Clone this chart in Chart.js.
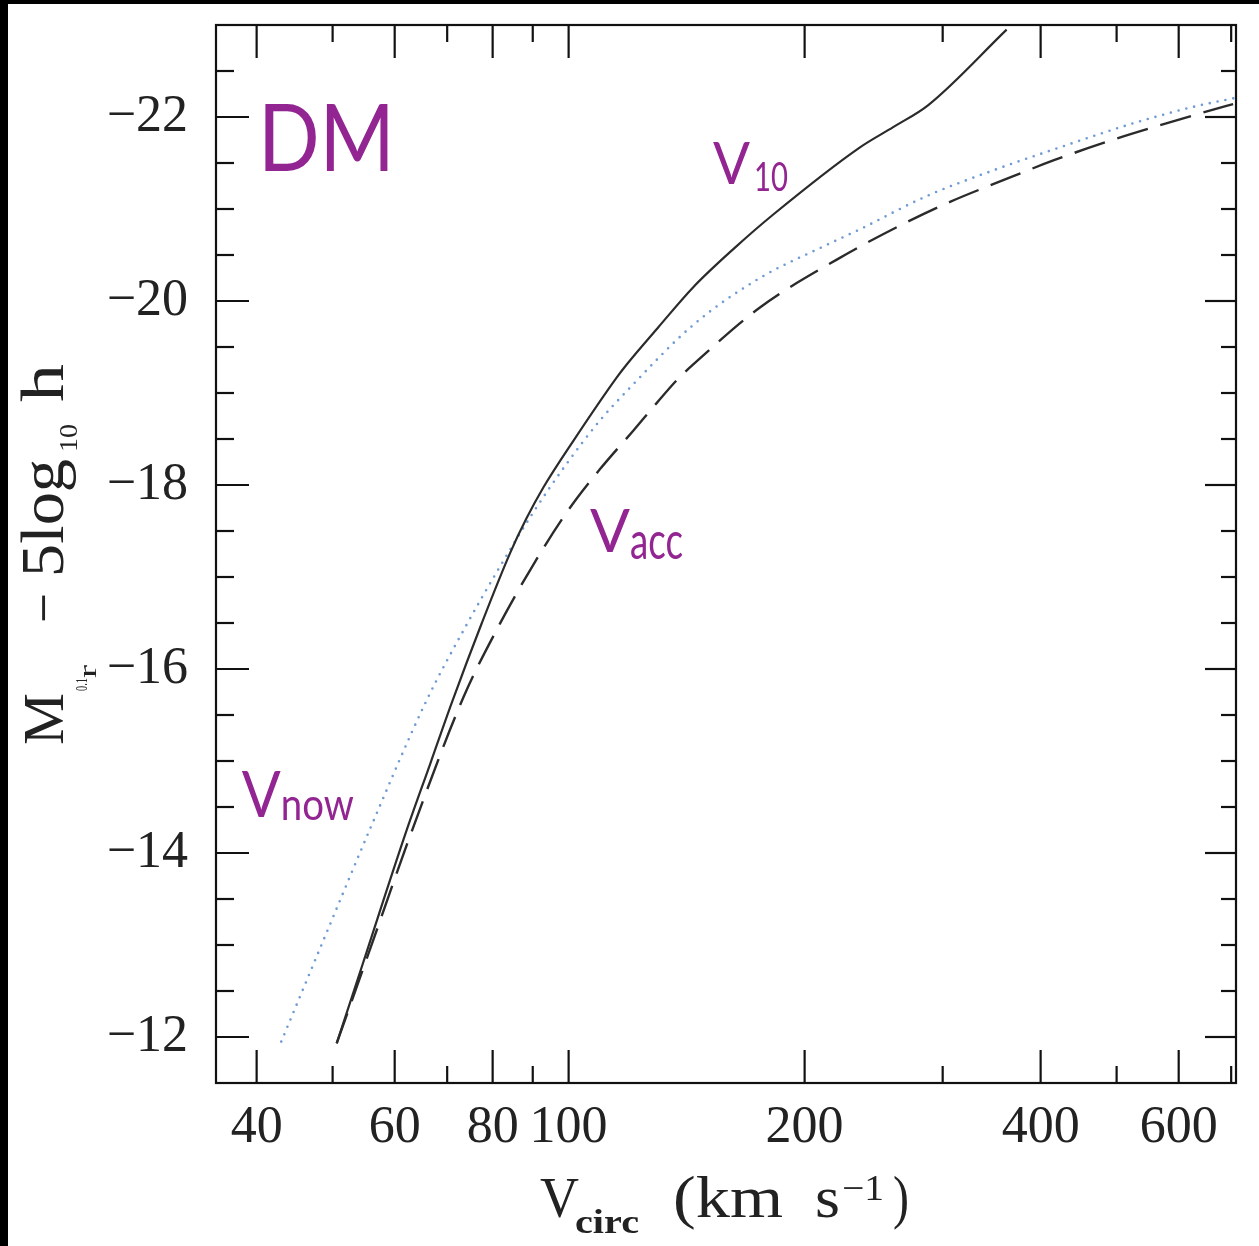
<!DOCTYPE html>
<html>
<head>
<meta charset="utf-8">
<script src="https://cdn.jsdelivr.net/npm/chart.js@4.4.1/dist/chart.umd.min.js"></script>
<style>
  html, body { margin: 0; padding: 0; background: #000; width: 1259px; height: 1246px; overflow: hidden; }
  #wrap { position: absolute; left: 8px; top: 4px; width: 1251px; height: 1242px; background: #fff; }
</style>
</head>
<body>
<div id="wrap"><canvas id="c"></canvas></div>
<script>
// ---- data ----
const v10V  = [50.6, 54.7, 62.1, 66.6, 71.0, 77.5, 84.2, 88.4, 92.8, 101.4, 115.2, 118.6, 130.0, 144.2, 163.0, 182.4, 235.3, 259.4, 287.6, 362];
const v10M  = [-11.93, -12.81, -14.24, -14.97, -15.64, -16.50, -17.26, -17.64, -17.97, -18.48, -19.17, -19.31, -19.71, -20.15, -20.58, -20.94, -21.67, -21.89, -22.13, -22.95];

const vaccV = [50.6, 56.0, 62.8, 73.4, 81.7, 90.1, 99.4, 109.6, 120.9, 129.5, 137.4, 144.2, 175.4, 219.8, 264.6, 307, 357.7, 416, 485.6, 568, 664, 704];
const vaccM = [-11.93, -12.99, -14.19, -15.69, -16.49, -17.13, -17.70, -18.17, -18.59, -18.89, -19.14, -19.31, -19.93, -20.45, -20.82, -21.08, -21.31, -21.53, -21.73, -21.91, -22.08, -22.14];

const vnowV = [43.0, 49.6, 55.8, 65.9, 74.1, 81.7, 90.1, 99.4, 109.6, 118.6, 144.2, 175.4, 213.4, 235.3, 286.2, 348, 423.3, 515, 626, 711];
const vnowM = [-11.95, -13.22, -14.26, -15.66, -16.48, -17.11, -17.70, -18.23, -18.70, -19.02, -19.74, -20.25, -20.61, -20.78, -21.14, -21.42, -21.67, -21.91, -22.11, -22.21];

const xLabelTicks = [40, 60, 80, 100, 200, 400, 600];
const xMinorTicks = [50, 70, 90, 300, 500, 700];
const yLabelTicks = [-12, -14, -16, -18, -20, -22];
const yMinorTicks = [-22.5, -21.5, -21, -20.5, -19.5, -19, -18.5, -17.5, -17, -16.5, -15.5, -15, -14.5, -13.5, -13, -12.5];

// annotation labels: main letter, subscript, anchor (data coords)
const annoMain = ['DM', 'V', 'V', 'V'];
const annoSub  = ['', '10', 'acc', 'now'];
const annoV    = [40.15, 152.8, 106.5, 38.3];
const annoM    = [-21.41, -21.27, -17.27, -14.39];

const PURPLE = '#922591';

function pts(xs, ys) { return xs.map((x, i) => ({x: x, y: ys[i]})); }

// draw text scaled horizontally to a target width
function txt(ctx, s, x, y, size, family, w, weight) {
  ctx.font = (weight || 'normal') + ' ' + size + 'px ' + family;
  const m = ctx.measureText(s).width;
  const k = w ? w / m : 1;
  ctx.save();
  ctx.translate(x, y);
  ctx.scale(k, 1);
  ctx.fillText(s, 0, 0);
  ctx.restore();
}

const frame = {
  id: 'frame',
  afterDraw(chart) {
    const ctx = chart.ctx, ca = chart.chartArea;
    const xs = chart.scales.x, ys = chart.scales.y;
    ctx.save();
    ctx.strokeStyle = '#111';
    ctx.lineWidth = 2.2;
    ctx.lineCap = 'butt';
    ctx.strokeRect(ca.left, ca.top, ca.right - ca.left, ca.bottom - ca.top);
    const line = (a, b, c, d) => { ctx.beginPath(); ctx.moveTo(a, b); ctx.lineTo(c, d); ctx.stroke(); };
    xLabelTicks.forEach(v => { const p = xs.getPixelForValue(v); line(p, ca.bottom, p, ca.bottom - 33); line(p, ca.top, p, ca.top + 33); });
    xMinorTicks.forEach(v => { const p = xs.getPixelForValue(v); line(p, ca.bottom, p, ca.bottom - 17); line(p, ca.top, p, ca.top + 17); });
    yLabelTicks.forEach(v => { const p = ys.getPixelForValue(v); line(ca.left, p, ca.left + 33, p); line(ca.right, p, ca.right - 31, p); });
    yMinorTicks.forEach(v => { const p = ys.getPixelForValue(v); line(ca.left, p, ca.left + 18, p); line(ca.right, p, ca.right - 15, p); });

    // annotations
    ctx.fillStyle = PURPLE;
    ctx.textBaseline = 'alphabetic';
    ctx.textAlign = 'left';
    const sans = 'Lato, "Open Sans", sans-serif';
    // DM
    let ax = xs.getPixelForValue(annoV[0]), ay = ys.getPixelForValue(annoM[0]);
    txt(ctx, annoMain[0], ax, ay, 93, sans, 137);
    // V10
    ax = xs.getPixelForValue(annoV[1]); ay = ys.getPixelForValue(annoM[1]);
    txt(ctx, annoMain[1], ax, ay, 59, sans, 37);
    txt(ctx, annoSub[1], ax + 41, ay + 7, 40, sans, 34);
    // Vacc
    ax = xs.getPixelForValue(annoV[2]); ay = ys.getPixelForValue(annoM[2]);
    txt(ctx, annoMain[2], ax, ay, 60, sans, 40);
    txt(ctx, annoSub[2], ax + 40, ay + 7, 53, sans, 53);
    // Vnow
    ax = xs.getPixelForValue(annoV[3]); ay = ys.getPixelForValue(annoM[3]);
    txt(ctx, annoMain[3], ax, ay, 63, sans, 39);
    txt(ctx, annoSub[3], ax + 39, ay + 3, 45, sans, 73);

    // axis titles
    ctx.fillStyle = '#222';
    const serif = '"Liberation Serif", "DejaVu Serif", serif';
    const OX = 8, OY = 4;
    // x title: V_circ (km s^-1)
    txt(ctx, 'V', 540 - OX, 1217 - OY, 57, serif, 39);
    txt(ctx, 'circ', 575 - OX, 1233 - OY, 34, serif, 64, 'bold');
    txt(ctx, '(km', 673 - OX, 1217 - OY, 60, serif, 110);
    txt(ctx, 's', 815 - OX, 1217 - OY, 60, serif, 25);
    txt(ctx, '−1', 842 - OX, 1200 - OY, 36, serif, 42);
    txt(ctx, ')', 893 - OX, 1217 - OY, 60, serif, 16);
    // y title rotated
    ctx.save();
    ctx.translate(63 - OX, 745 - OY);
    ctx.rotate(-Math.PI / 2);
    txt(ctx, 'M', 0, 0, 58, serif, 52);
    txt(ctx, '0.1', 54, 24, 17, serif, 13);
    txt(ctx, 'r', 67, 33, 26, serif, 13);
    txt(ctx, '−', 122, 0, 58, serif, 30);
    txt(ctx, '5log', 168, 0, 62, serif, 118);
    txt(ctx, '10', 293, 14, 26, serif, 28);
    txt(ctx, 'h', 343, 0, 62, serif, 38);
    ctx.restore();
    ctx.restore();
  }
};

const serifFont = {family: '"Liberation Serif", "DejaVu Serif", serif', size: 52};

new Chart(document.getElementById('c'), {
  type: 'line',
  data: {
    datasets: [
      { label: 'V10', data: pts(v10V, v10M), borderColor: '#2b2b2b', borderWidth: 2.2,
        pointRadius: 0, fill: false, cubicInterpolationMode: 'monotone' },
      { label: 'Vacc', data: pts(vaccV, vaccM), borderColor: '#2b2b2b', borderWidth: 2.4,
        borderDash: [32, 13], pointRadius: 0, fill: false, cubicInterpolationMode: 'monotone' },
      { label: 'Vnow', data: pts(vnowV, vnowM), borderColor: '#6f9bd3', borderWidth: 2.6,
        borderDash: [0, 8], borderCapStyle: 'round', pointRadius: 0, fill: false, cubicInterpolationMode: 'monotone' }
    ]
  },
  options: {
    responsive: true,
    maintainAspectRatio: false,
    animation: false,
    events: [],
    layout: { padding: { top: 21, right: 23, left: 0, bottom: 0 } },
    plugins: { legend: { display: false }, tooltip: { enabled: false } },
    scales: {
      x: {
        type: 'logarithmic', min: 35.5, max: 710,
        grid: { display: false, drawTicks: false },
        border: { display: false },
        afterBuildTicks: s => { s.ticks = xLabelTicks.map(v => ({ value: v })); },
        afterFit: s => { s.height = 163; s.paddingLeft = 0; s.paddingRight = 0; },
        ticks: { autoSkip: false, maxRotation: 0, minRotation: 0, padding: 14, color: '#222',
                 font: serifFont, callback: v => String(v) }
      },
      y: {
        type: 'linear', min: -23, max: -11.5, reverse: true,
        grid: { display: false, drawTicks: false },
        border: { display: false },
        afterBuildTicks: s => { s.ticks = yLabelTicks.map(v => ({ value: v })); },
        afterFit: s => { s.width = 208; s.paddingTop = 0; s.paddingBottom = 0; },
        ticks: { autoSkip: false, padding: 28, color: '#222', font: serifFont,
                 callback: v => '−' + Math.abs(v) }
      }
    }
  },
  plugins: [frame]
});
</script>
</body>
</html>
